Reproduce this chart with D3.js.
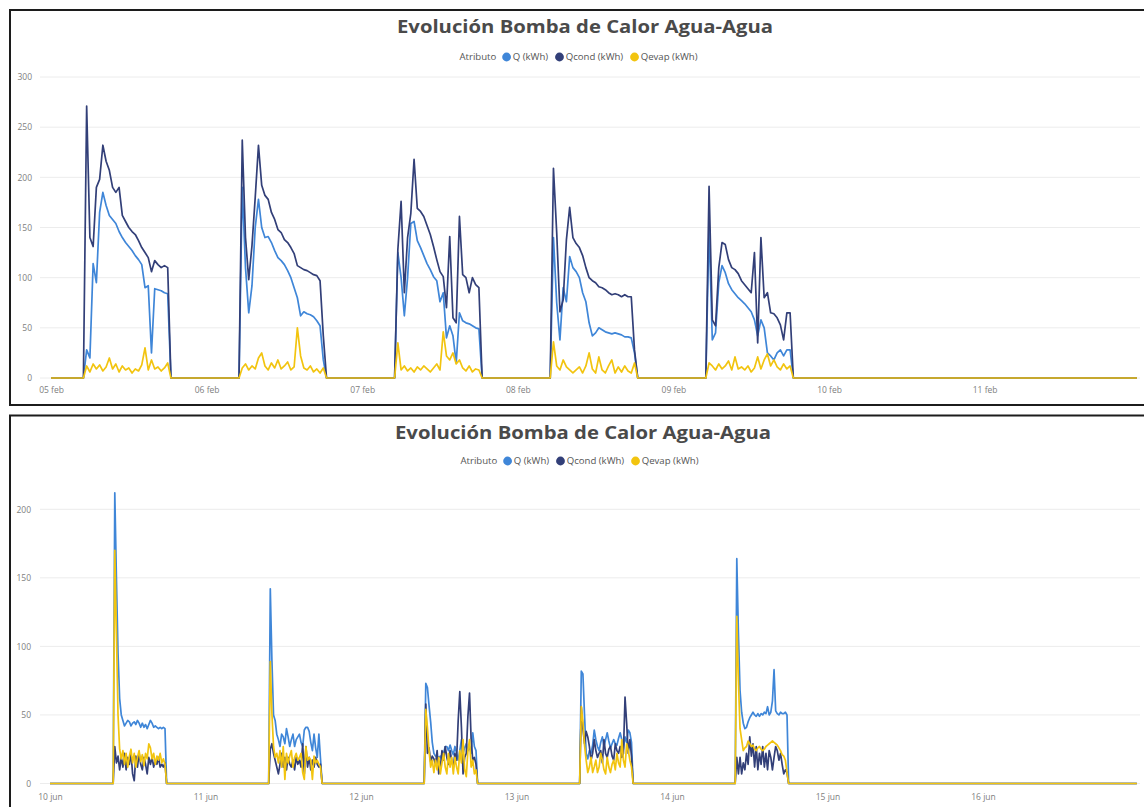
<!DOCTYPE html>
<html><head><meta charset="utf-8">
<script src="https://cdn.jsdelivr.net/npm/d3@7"></script>
<style>body{margin:0;background:#fff}svg{display:block}</style>
</head><body>
<svg id="c" width="1144" height="807"></svg>
<script>
// ---------- DATA ----------
const titleText = "Evolución Bomba de Calor Agua-Agua";
const legendTitle = "Atributo";
const seriesNames = ["Q (kWh)", "Qcond (kWh)", "Qevap (kWh)"];
const seriesColors = ["#3f86d8", "#323f78", "#f2c40f"];

// February chart (30-min readings, sessions start 05:30 each day)
const febTickLabels = ["05 feb","06 feb","07 feb","08 feb","09 feb","10 feb","11 feb"];
const febStart = Date.UTC(2024, 1, 5);
const febStepMin = 30;
const febSessionDay = [0, 1, 2, 3, 4];
const febSessionHour = [5.5, 5.5, 5.5, 5.5, 5.5];
const febYTicks = [0, 50, 100, 150, 200, 250, 300];
const febQ = [
  [28,20,114,95,165,185,172,162,158,154,146,140,135,131,127,122,118,113,90,92,25,89,88,87,85,84],
  [190,110,65,92,150,178,150,140,141,135,127,120,117,113,107,100,90,80,62,66,64,63,61,57,52,18],
  [125,100,62,100,154,156,137,130,122,114,108,101,97,76,85,40,52,42,15,65,57,55,54,52,50,49],
  [140,75,38,90,76,121,110,106,100,85,76,55,42,45,50,48,46,45,44,45,44,43,41,41,40,25],
  [150,38,45,95,112,105,94,88,84,80,77,74,70,66,58,42,58,50,25,22,18,25,28,22,28,28]
];
const febQcond = [
  [271,140,131,190,198,232,216,207,190,185,190,162,156,150,146,143,137,130,125,120,106,117,113,110,112,110],
  [237,140,98,132,180,232,192,182,178,165,158,148,145,138,135,130,124,112,110,108,107,105,103,102,97,42],
  [128,176,85,140,164,218,169,166,161,152,143,131,118,106,101,70,141,60,55,161,103,100,85,100,93,90],
  [209,145,66,78,138,170,140,134,130,122,110,100,97,95,91,90,88,85,83,84,83,81,83,81,81,28],
  [191,58,52,110,135,133,118,110,108,104,97,93,89,85,125,35,140,80,85,65,64,60,53,38,65,65]
];
const febQevap = [
  [12,6,14,9,13,7,11,20,9,14,6,12,8,10,5,9,7,13,30,8,18,9,11,7,10,15],
  [10,14,8,12,9,20,25,12,8,15,10,18,9,12,16,8,11,50,22,10,8,12,6,9,5,10],
  [35,8,12,7,10,6,11,8,12,9,6,10,14,8,46,22,18,25,14,18,10,7,12,6,9,8],
  [36,12,8,18,11,8,5,8,11,5,12,25,9,5,21,8,5,12,18,5,11,6,12,7,5,15],
  [15,12,8,14,9,12,17,8,21,9,11,8,12,6,10,21,9,18,24,12,18,11,8,14,9,12]
];

// June chart (15-min readings, sessions start 10:00 each day)
const junTickLabels = ["10 jun","11 jun","12 jun","13 jun","14 jun","15 jun","16 jun"];
const junStart = Date.UTC(2024, 5, 10);
const junStepMin = 15;
const junSessionDay = [0, 1, 2, 3, 4];
const junSessionHour = [10, 10, 10, 10, 10];
const junYTicks = [0, 50, 100, 150, 200];
const junQ = [
  [212,150,95,62,50,46,42,44,46,45,42,44,45,43,46,44,41,44,41,43,40,43,46,44,41,42,41,40,41,40,41,40],
  [142,90,50,46,36,32,27,36,34,29,40,34,27,32,36,27,32,34,36,30,27,39,41,41,38,30,24,36,26,19,36,18],
  [73,70,57,45,30,22,20,20,19,20,17,22,27,27,24,28,24,21,27,22,17,24,32,22,26,29,24,27,22,37,27,24],
  [82,80,50,22,18,24,22,28,39,32,27,24,30,34,27,32,37,31,26,29,32,29,28,33,37,32,25,34,30,39,37,30],
  [164,110,68,52,44,40,41,45,48,50,52,50,49,51,49,51,50,52,51,56,50,52,60,83,53,51,50,52,51,51,52,50]
];
const junQcond = [
  [27,15,20,10,19,12,22,10,19,14,22,7,2,20,12,22,14,10,19,14,7,19,14,19,12,17,14,19,12,14,12,15],
  [25,29,22,17,12,7,14,22,12,19,10,19,14,12,17,10,19,14,17,12,29,7,27,12,19,10,17,12,19,14,12,14],
  [58,22,26,16,20,18,14,24,7,12,24,17,27,19,14,24,17,12,22,17,46,67,41,7,19,22,49,66,32,17,19,14],
  [56,40,29,38,34,27,17,22,32,24,19,22,24,15,32,22,19,25,27,20,17,29,24,22,27,19,22,63,44,22,32,20],
  [19,7,19,7,15,10,22,14,34,20,29,12,27,10,22,14,27,12,22,10,24,19,10,19,27,24,17,22,14,7,10,8]
];
const junQevap = [
  [170,110,50,25,18,24,14,22,12,20,25,15,22,12,19,24,16,21,13,22,18,29,26,18,22,14,20,17,22,15,18,14],
  [89,51,27,19,22,15,24,12,27,3,22,15,20,24,12,19,22,17,19,22,8,3,27,17,19,17,3,20,15,17,14,12],
  [54,41,24,12,17,8,17,10,19,7,15,22,12,7,22,12,19,7,19,12,7,24,15,32,10,5,24,32,12,17,7,10],
  [56,45,28,17,8,12,19,8,12,17,8,12,22,17,10,7,19,12,8,14,17,10,22,15,12,32,17,12,29,24,17,12],
  [122,75,40,32,24,26,27,31,29,27,28,25,24,26,27,25,24,25,27,28,29,30,31,30,29,28,26,24,21,20,17,8]
];

// ---------- BUILD ----------
const DAY = 86400000;
function buildSeries(start, stepMin, days, sessDay, sessHour, sessions) {
  const pts = [];
  const total = days * 24 * 60 / stepMin;
  for (let k = 0; k < total; k++) {
    const minute = k * stepMin;
    let v = 0;
    sessions.forEach((arr, s) => {
      const idx = Math.round((minute - (sessDay[s] * 1440 + sessHour[s] * 60)) / stepMin);
      if (idx >= 0 && idx < arr.length) v = arr[idx];
    });
    pts.push({ t: new Date(start + minute * 60000), v });
  }
  return pts;
}

const svg = d3.select("#c");
const FONT = "'Open Sans', 'Segoe UI', sans-serif";

function drawChart(cfg) {
  const g = svg.append("g");
  g.append("rect").attr("x", cfg.panel[0]).attr("y", cfg.panel[1])
    .attr("width", cfg.panel[2]).attr("height", cfg.panel[3])
    .attr("fill", "#fff").attr("stroke", "#1c1c1c").attr("stroke-width", 2);

  g.append("text").attr("x", cfg.titleX).attr("y", cfg.titleY)
    .attr("text-anchor", "middle").attr("font-family", FONT)
    .attr("font-weight", 700).attr("font-size", 17).attr("fill", "#4a4a4a")
    .attr("textLength", 376).attr("lengthAdjust", "spacingAndGlyphs")
    .text(titleText);

  // legend
  const lg = g.append("g");
  let cx = 0;
  const lt = lg.append("text").attr("x", cx).attr("y", cfg.legendY + 3.4)
    .attr("font-family", FONT).attr("font-size", 9.6).attr("fill", "#555").text(legendTitle);
  cx += lt.node().getComputedTextLength() + 6;
  seriesNames.forEach((n, i) => {
    lg.append("circle").attr("cx", cx + 4.3).attr("cy", cfg.legendY).attr("r", 4.4).attr("fill", seriesColors[i]);
    cx += 10.5;
    const t = lg.append("text").attr("x", cx).attr("y", cfg.legendY + 3.4)
      .attr("font-family", FONT).attr("font-size", 9.6).attr("fill", "#555").text(n);
    cx += t.node().getComputedTextLength() + 7;
  });
  lg.attr("transform", `translate(${cfg.legendCenter - (cx - 7) / 2},0)`);

  const x = d3.scaleTime().domain([new Date(cfg.start), new Date(cfg.start + 7 * DAY)]).range(cfg.xRange);
  const y = d3.scaleLinear().domain([0, cfg.yTicks[cfg.yTicks.length - 1]]).range(cfg.yRange);

  g.append("g").selectAll("line").data(cfg.yTicks).join("line")
    .attr("x1", cfg.gridX[0]).attr("x2", cfg.gridX[1])
    .attr("y1", d => y(d)).attr("y2", d => y(d))
    .attr("stroke", "#ececec").attr("stroke-width", 1);

  const ya = g.append("g").attr("transform", `translate(${cfg.yLabelX},0)`)
    .call(d3.axisLeft(y).tickValues(cfg.yTicks).tickSize(0).tickPadding(0).tickFormat(d3.format("d")));
  ya.select(".domain").remove();
  ya.selectAll("text").attr("font-family", FONT).attr("font-size", 8.5).attr("fill", "#808080");

  const dayTicks = cfg.tickLabels.map((_, i) => new Date(cfg.start + i * DAY));
  const xa = g.append("g").attr("transform", `translate(0,${cfg.xLabelY})`)
    .call(d3.axisBottom(x).tickValues(dayTicks).tickSize(0).tickPadding(0)
      .tickFormat((d, i) => cfg.tickLabels[i]));
  xa.select(".domain").remove();
  xa.selectAll("text").attr("font-family", FONT).attr("font-size", 8.5).attr("fill", "#808080").attr("dy", "0");

  const line = d3.line().x(d => x(d.t)).y(d => y(d.v));
  cfg.series.forEach((sess, i) => {
    const data = buildSeries(cfg.start, cfg.step, 7, cfg.sessDay, cfg.sessHour, sess);
    g.append("path").datum(data).attr("d", line).attr("fill", "none")
      .attr("stroke", seriesColors[i]).attr("stroke-width", 1.7)
      .attr("stroke-linejoin", "round");
  });
}

drawChart({
  panel: [10, 10, 1150, 395],
  titleX: 585, titleY: 33, legendY: 57, legendCenter: 578.5,
  start: febStart, step: febStepMin, sessDay: febSessionDay, sessHour: febSessionHour,
  tickLabels: febTickLabels, yTicks: febYTicks,
  xRange: [51, 51 + 7 * 155.6], yRange: [378, 77],
  gridX: [40, 1140], yLabelX: 32, xLabelY: 393,
  series: [febQ, febQcond, febQevap]
});

drawChart({
  panel: [10, 415.5, 1150, 420],
  titleX: 583, titleY: 439, legendY: 461, legendCenter: 579.5,
  start: junStart, step: junStepMin, sessDay: junSessionDay, sessHour: junSessionHour,
  tickLabels: junTickLabels, yTicks: junYTicks,
  xRange: [50, 50 + 7 * 155.5], yRange: [783.5, 509.3],
  gridX: [40, 1140], yLabelX: 31, xLabelY: 800,
  series: [junQ, junQcond, junQevap]
});
</script>
</body></html>
